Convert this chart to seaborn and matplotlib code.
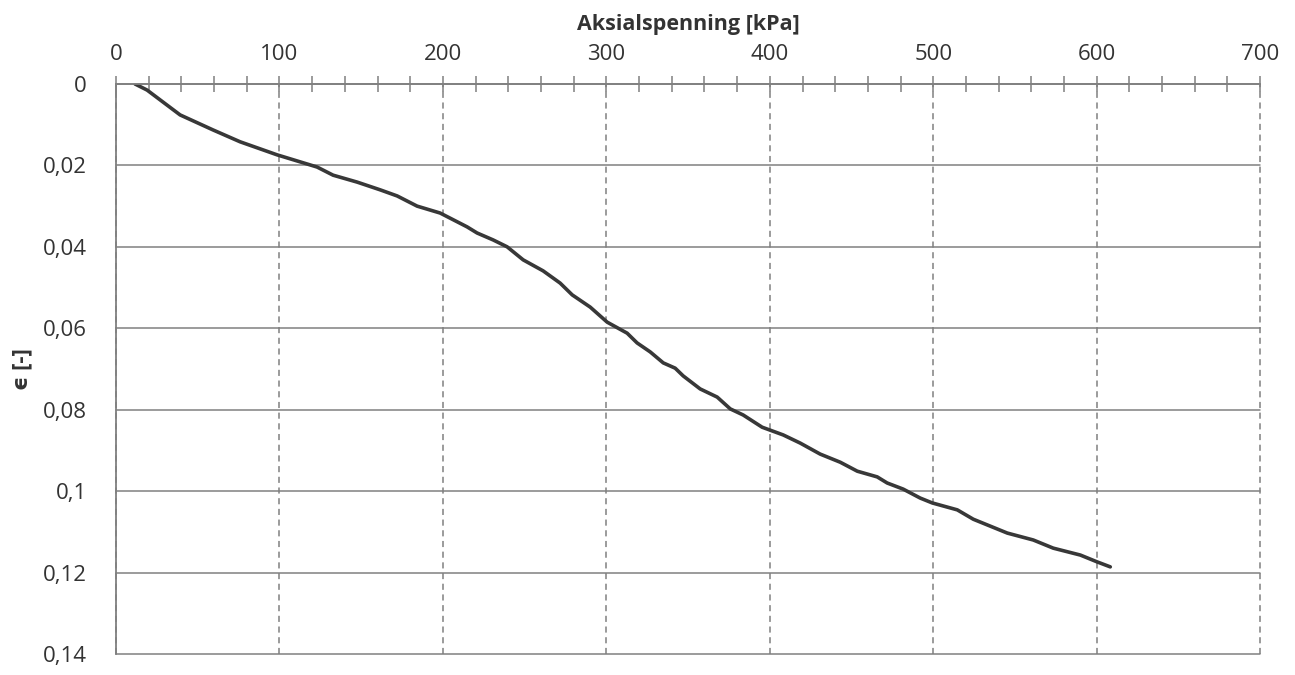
import numpy as np
import pandas as pd
import matplotlib
matplotlib.use("Agg")
import matplotlib.pyplot as plt
from matplotlib.ticker import MultipleLocator, FuncFormatter
import seaborn as sns

# ---- data (stress in kPa, strain in -) ----
aksialspenning = [11.6, 19.0, 39.2, 59.4, 75.9, 98.5, 123.0, 132.8, 147.5, 161.6,
                  172.0, 184.2, 198.3, 214.8, 220.9, 230.7, 239.3, 249.1, 261.3, 271.7,
                  279.1, 290.1, 300.5, 312.7, 318.8, 326.8, 334.8, 342.1, 347.0, 357.4,
                  367.8, 375.8, 383.7, 395.3, 408.2, 418.6, 430.8, 443.1, 453.5, 465.7,
                  471.8, 481.6, 492.0, 499.4, 514.7, 524.5, 545.3, 561.2, 573.4, 590.0,
                  600.4, 608.3]
toyning = [0.0000, 0.0015, 0.0076, 0.0113, 0.0142, 0.0174, 0.0204, 0.0224, 0.0241, 0.0260,
           0.0275, 0.0300, 0.0317, 0.0351, 0.0366, 0.0383, 0.0400, 0.0432, 0.0459, 0.0489,
           0.0518, 0.0548, 0.0585, 0.0612, 0.0636, 0.0658, 0.0685, 0.0698, 0.0717, 0.0749,
           0.0769, 0.0798, 0.0813, 0.0843, 0.0862, 0.0882, 0.0909, 0.0929, 0.0951, 0.0965,
           0.0980, 0.0995, 0.1017, 0.1029, 0.1046, 0.1069, 0.1103, 0.1120, 0.1140, 0.1157,
           0.1174, 0.1186]

df = pd.DataFrame({"spenning": aksialspenning, "eps": toyning})

sns.set_style("white")
plt.rcParams['font.family'] = ['Open Sans', 'DejaVu Sans']

grid_col = "#808080"
text_col = "#333333"

fig = plt.figure(figsize=(12.95, 6.75), dpi=100)
ax = fig.add_axes([0.0896, 0.0311, 0.8835, 0.8445])

sns.lineplot(data=df, x="spenning", y="eps", sort=False, color="#383838",
             linewidth=2.6, ax=ax)

ax.set_xlim(0, 700)
ax.set_ylim(0.14, 0)
ax.xaxis.tick_top()
ax.xaxis.set_label_position("top")
ax.xaxis.set_major_locator(MultipleLocator(100))
ax.xaxis.set_minor_locator(MultipleLocator(20))
ax.yaxis.set_major_locator(MultipleLocator(0.02))
ax.yaxis.set_major_formatter(FuncFormatter(lambda v, p: f"{round(v, 2):g}".replace(".", ",")))

# grid: dashed verticals, solid horizontals
ax.grid(axis="x", which="major", linestyle=(0, (4, 3)), color=grid_col, linewidth=1.1)
ax.grid(axis="y", which="major", linestyle="-", color=grid_col, linewidth=1.1)
for gl in ax.get_xgridlines() + ax.get_ygridlines():
    gl.set_clip_on(False)

for side in ["right", "bottom"]:
    ax.spines[side].set_visible(False)
for side in ["top", "left"]:
    ax.spines[side].set_color(grid_col)
    ax.spines[side].set_linewidth(1.3)

ax.tick_params(axis="x", which="both", direction="inout", length=12, width=1.1,
               color=grid_col, labelsize=16, pad=8, bottom=False, top=True)
ax.tick_params(axis="y", which="major", direction="out", length=9, width=1.1,
               color=grid_col, labelsize=16, pad=12)

ax.set_xlabel("Aksialspenning [kPa]", fontsize=15.5, fontweight="bold", color=text_col, labelpad=10)
ax.set_ylabel("ϵ [-]", fontsize=16, fontweight="bold", color=text_col)
ax.yaxis.set_label_coords(-0.073, 0.5)
for lbl in ax.get_xticklabels() + ax.get_yticklabels():
    lbl.set_color(text_col)

fig.savefig("out.png", dpi=100)
